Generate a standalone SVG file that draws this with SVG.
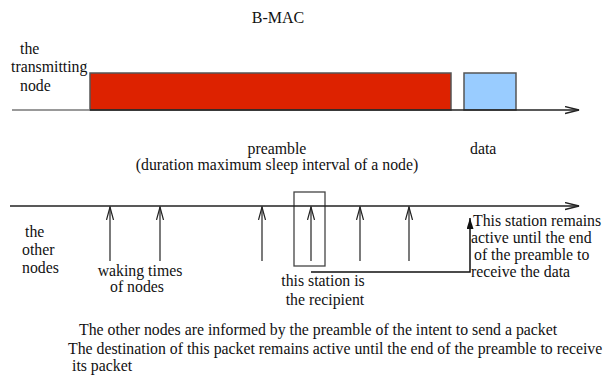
<svg xmlns="http://www.w3.org/2000/svg" width="603" height="376" viewBox="0 0 603 376">
<style>
.t{font-family:'Liberation Serif','DejaVu Serif',serif;font-size:15.8px;fill:#111}
.mid{text-anchor:middle}
.axis{stroke:#222;stroke-width:1.3;fill:none}
.wake{stroke:#222;stroke-width:1.2;fill:none}
.blk{stroke:#555;stroke-width:1.5}
</style>
<defs>
<marker id="open" markerUnits="userSpaceOnUse" markerWidth="16" markerHeight="10" refX="14" refY="4" orient="auto">
<path d="M0,0.5 L14,4 L0,7.5" fill="none" stroke="#222" stroke-width="1.3"/>
</marker>
<marker id="vee" markerUnits="userSpaceOnUse" markerWidth="14" markerHeight="9" refX="13" refY="4" orient="auto">
<path d="M0,0.5 L13,4 L0,7.5" fill="none" stroke="#222" stroke-width="1.2"/>
</marker>
<marker id="fill" markerUnits="userSpaceOnUse" markerWidth="12" markerHeight="8" refX="11" refY="3.5" orient="auto">
<path d="M0,0 L11,3.5 L0,7 Z" fill="#111"/>
</marker>
</defs>
<text id="title" x="278" y="23" class="t mid" style="font-size:16px">B-MAC</text>
<g id="transmitter">
<text class="t" x="20" y="54">the</text>
<text class="t" x="11" y="72">transmitting</text>
<text class="t" x="20" y="91">node</text>
</g>
<g id="preamble">
<rect x="90" y="73" width="361" height="37" fill="#dd2200" class="blk"/>
</g>
<g id="data">
<rect x="464" y="73" width="52" height="37" fill="#99ccff" class="blk"/>
</g>
<g id="recipientBox">
<rect x="294" y="192" width="31" height="74" fill="none" stroke="#444" stroke-width="1.3"/>
</g>
<g id="connectors">
<line x1="12" y1="110" x2="90" y2="110" stroke="#777" stroke-width="1.5"/>
<line x1="90" y1="110" x2="579" y2="110" class="axis" marker-end="url(#open)"/>
<line x1="10" y1="206" x2="579" y2="206" class="axis" marker-end="url(#open)"/>
<line x1="110" y1="261" x2="110" y2="207" class="wake" marker-end="url(#vee)"/>
<line x1="160" y1="261" x2="160" y2="207" class="wake" marker-end="url(#vee)"/>
<line x1="262" y1="261" x2="262" y2="207" class="wake" marker-end="url(#vee)"/>
<line x1="311" y1="261" x2="311" y2="207" class="wake" marker-end="url(#vee)"/>
<line x1="360" y1="261" x2="360" y2="207" class="wake" marker-end="url(#vee)"/>
<line x1="409" y1="261" x2="409" y2="207" class="wake" marker-end="url(#vee)"/>
<path d="M311,272 H470 V218" fill="none" stroke="#111" stroke-width="1.5" marker-end="url(#fill)"/>
</g>
<g id="labels">
<text class="t mid" x="277" y="154">preamble</text>
<text class="t mid" x="277" y="170">(duration maximum sleep interval of a node)</text>
<text class="t" x="470" y="154">data</text>
<text class="t" x="25" y="237">the</text>
<text class="t" x="22" y="255">other</text>
<text class="t" x="22" y="273">nodes</text>
<text class="t mid" x="140" y="276">waking times</text>
<text class="t mid" x="137" y="292">of nodes</text>
<text class="t mid" x="323" y="286">this station is</text>
<text class="t mid" x="325" y="305">the recipient</text>
<text class="t" x="473" y="226">This station remains</text>
<text class="t" x="471" y="243">active until the end</text>
<text class="t" x="474" y="260">of the preamble to</text>
<text class="t" x="471" y="277">receive the data</text>
<text class="t" x="79" y="335">The other nodes are informed by the preamble of the intent to send a packet</text>
<text class="t" x="68" y="354">The destination of this packet remains active until the end of the preamble to receive</text>
<text class="t" x="72" y="371">its packet</text>
</g>
</svg>
